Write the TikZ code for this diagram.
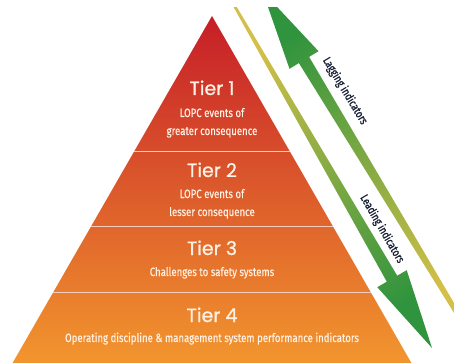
\documentclass[tikz,border=0pt]{standalone}
\usepackage{fontspec}
\setmainfont{Fira Sans}
\newfontfamily\tierfont[FakeBold=0.8]{Poppins}
\newfontfamily\narrowfont[FakeStretch=0.8,FakeBold=0.5]{Fira Sans}
\newfontfamily\labelfont[FakeStretch=0.8,FakeBold=1]{Fira Sans}
\definecolor{pyrtop}{RGB}{198,30,40}
\definecolor{pyrmid}{RGB}{220,82,40}
\definecolor{pyrbot}{RGB}{242,150,46}
\definecolor{arrgreen}{RGB}{48,148,62}
\definecolor{arrmid}{RGB}{140,170,55}
\definecolor{arryellow}{RGB}{212,192,72}
\definecolor{divline}{RGB}{245,205,190}
\definecolor{labelink}{RGB}{24,30,52}
\definecolor{tiertext}{RGB}{255,240,228}
\begin{document}
\begin{tikzpicture}[x=1pt,y=-1pt,
  tiertitle/.style={anchor=base,text=tiertext,font=\tierfont\fontsize{19}{22}\selectfont,inner sep=0pt},
  tierdesc/.style={anchor=base,text=tiertext,font=\narrowfont\fontsize{12}{14}\selectfont,inner sep=0pt},
  arrowlabel/.style={text=labelink,font=\labelfont\fontsize{11.5}{13}\selectfont,inner sep=0pt},
  divider/.style={draw=divline,line width=0.9pt}]
\useasboundingbox[fill=white] (0,0) rectangle (454,363);
% pyramid
\shade[top color=pyrtop,middle color=pyrmid,bottom color=pyrbot]
  (212,16) -- (412,364) -- (12,364) -- cycle;
\begin{scope}
  \clip (212,16) -- (412,364) -- (12,364) -- cycle;
  \draw[divider] (0,151) -- (454,151);
  \draw[divider] (0,226) -- (454,226);
  \draw[divider] (0,292) -- (454,292);
\end{scope}
% arrows
\begin{scope}
  \clip (0,8) rectangle (454,363);
  % leading indicators arrow (pointing down)
  \shade[top color=arryellow,middle color=arrmid,bottom color=arrgreen,shading angle=30]
    (232.2,-0.65) -- (397.2,275.7) -- (406.7,270.2) -- (432,348)
    -- (377.3,287.2) -- (386.8,281.7) -- (230.0,0.65) -- cycle;
  % lagging indicators arrow (pointing up)
  \shade[top color=arrgreen,middle color=arrmid,bottom color=arryellow,shading angle=31]
    (262.6,-8.5) -- (318.5,51.2) -- (309.1,56.9) -- (471.5,332.7)
    -- (467.7,335.0) -- (298.9,63.1) -- (289.5,68.8) -- cycle;
\end{scope}
% arrow labels
\node[arrowlabel,rotate=-59] (lag) at (345,91) {Lagging indicators};
\node[arrowlabel,rotate=-60] (lead) at (382,229) {Leading indicators};
% tier texts
\node[tiertitle] (t1) at (212,95) {Tier 1};
\node[tierdesc] (t1a) at (212,117) {LOPC events of};
\node[tierdesc] (t1b) at (212,135) {greater consequence};
\node[tiertitle] (t2) at (212,177) {Tier 2};
\node[tierdesc] (t2a) at (212,198) {LOPC events of};
\node[tierdesc] (t2b) at (212,216) {lesser consequence};
\node[tiertitle] (t3) at (212,255) {Tier 3};
\node[tierdesc] (t3a) at (212,276) {Challenges to safety systems};
\node[tiertitle] (t4) at (212,322) {Tier 4};
\node[tierdesc] (t4a) at (212,342) {Operating discipline \& management system performance indicators};
\end{tikzpicture}
\end{document}
